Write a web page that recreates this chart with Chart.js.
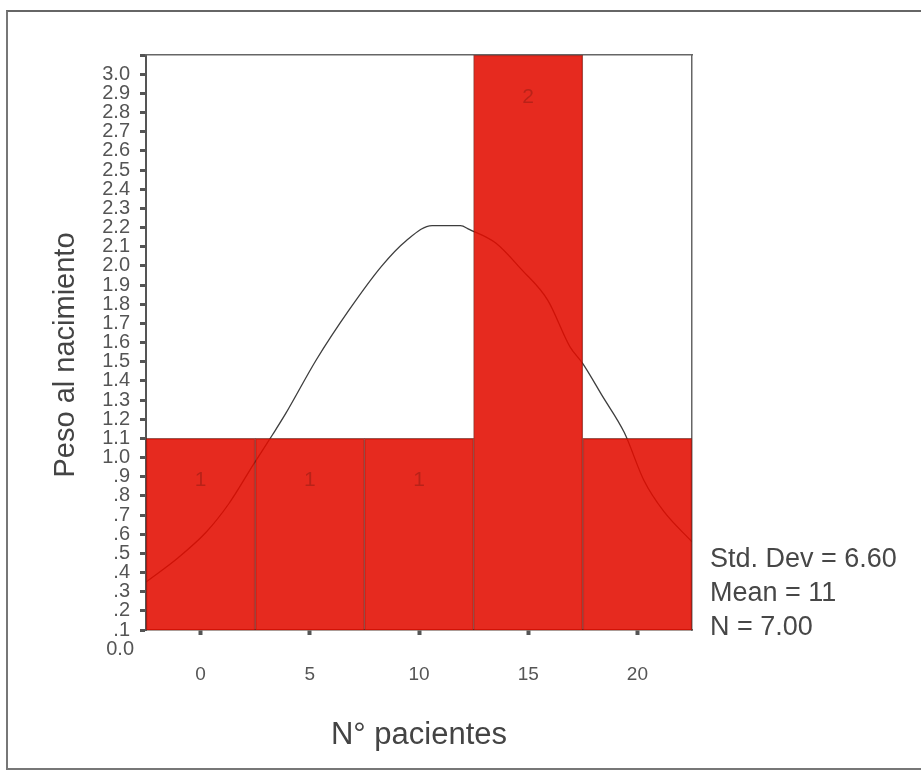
<!DOCTYPE html>
<html>
<head>
<meta charset="utf-8">
<script src="https://cdn.jsdelivr.net/npm/chart.js@4.4.0/dist/chart.umd.min.js"></script>
<style>
  html, body { margin: 0; padding: 0; background: #fff; overflow: hidden; }
  .frame { position: absolute; left: 6px; top: 10px; width: 960px; height: 756px;
           border-top: 2px solid #666; border-left: 2px solid #777; border-bottom: 2px solid #777; }
  .chart-container { position: absolute; left: 0; top: 0; width: 921px; height: 776px; }
</style>
</head>
<body>
<div class="frame"></div>
<div class="chart-container"><canvas id="histChart"></canvas></div>
<script>
// histogram bins (N° pacientes) and bar tops
const binCenters = [0, 5, 10, 15, 20];
const barHeights = [1.1, 1.1, 1.1, 3.1, 1.1];
// count printed in each bar (the last one is not legible in the scan)
const binCounts = ['1', '1', '1', '2', ''];

// normal curve, points
const curveX = [-2.5, -1, 0.25, 1.3, 2.4, 3.3, 3.9, 5.3, 6.8, 8.3, 9.4, 10.6, 11.9, 12.3, 13.5, 14.7, 15.9, 16.9, 17.5, 18.4, 19.4, 20.3, 21.2, 22.5];
const curveY = [0.35, 0.48, 0.61, 0.76, 0.96, 1.12, 1.23, 1.51, 1.77, 2.0, 2.13, 2.21, 2.21, 2.19, 2.12, 1.98, 1.82, 1.58, 1.49, 1.32, 1.13, 0.88, 0.72, 0.56];

const xTickValues = [0, 5, 10, 15, 20];
const yTickValues = [0.1, 0.2, 0.3, 0.4, 0.5, 0.6, 0.7, 0.8, 0.9, 1.0, 1.1, 1.2, 1.3, 1.4, 1.5, 1.6, 1.7, 1.8, 1.9, 2.0,
                     2.1, 2.2, 2.3, 2.4, 2.5, 2.6, 2.7, 2.8, 2.9, 3.0, 3.1];
const yTickLabels = ['.1', '.2', '.3', '.4', '.5', '.6', '.7', '.8', '.9', '1.0', '1.1', '1.2', '1.3', '1.4', '1.5', '1.6',
                     '1.7', '1.8', '1.9', '2.0', '2.1', '2.2', '2.3', '2.4', '2.5', '2.6', '2.7', '2.8', '2.9', '3.0', ''];
const statLines = ['Std. Dev = 6.60', 'Mean = 11', 'N = 7.00'];
const yTitle = 'Peso al nacimiento';

const FONT = "'Liberation Sans', Arial, sans-serif";

// counts inside the bars, the stray 0.0 label, the y title and the stats block
const extraText = {
    id: 'extraText',
    afterDatasetsDraw(chart) {
        const ctx = chart.ctx;
        const area = chart.chartArea;
        const bars = chart.getDatasetMeta(1).data;
        ctx.save();
        ctx.font = '21px ' + FONT;
        ctx.fillStyle = 'rgba(130, 25, 15, 0.45)';
        ctx.textAlign = 'center';
        ctx.textBaseline = 'middle';
        bars.forEach((bar, i) => {
            ctx.fillText(binCounts[i], bar.x, Math.max(bar.y, area.top) + 42);
        });

        const yScale = chart.scales.y;
        ctx.font = '20px ' + FONT;
        ctx.fillStyle = '#555';
        ctx.textAlign = 'right';
        ctx.fillText('0.0', yScale.right - 12, yScale.getPixelForValue(0));

        ctx.font = '27px ' + FONT;
        ctx.fillStyle = '#474747';
        ctx.textAlign = 'left';
        statLines.forEach((line, i) => {
            ctx.fillText(line, area.right + 18, 560 + i * 34);
        });

        ctx.translate(66, 355);
        ctx.rotate(-Math.PI / 2);
        ctx.font = '29px ' + FONT;
        ctx.fillStyle = '#444';
        ctx.textAlign = 'center';
        ctx.fillText(yTitle, 0, 0);
        ctx.restore();
    }
};

new Chart(document.getElementById('histChart'), {
    data: {
        datasets: [{
            type: 'line',
            data: curveX.map((x, i) => ({ x: x, y: curveY[i] })),
            borderColor: 'rgba(40, 40, 40, 0.9)',
            borderWidth: 1.3,
            pointRadius: 0,
            cubicInterpolationMode: 'monotone',
            fill: false,
            order: 2
        }, {
            type: 'bar',
            data: binCenters.map((x, i) => ({ x: x, y: barHeights[i] })),
            // slightly see-through so the curve shows faintly through the bars
            backgroundColor: 'rgba(227, 13, 0, 0.88)',
            borderColor: 'rgba(120, 30, 20, 0.75)',
            borderWidth: 1,
            barPercentage: 1.0,
            categoryPercentage: 1.0,
            order: 1
        }]
    },
    options: {
        responsive: true,
        maintainAspectRatio: false,
        animation: false,
        layout: { padding: { left: 0, top: 55, right: 229, bottom: 0 } },
        plugins: {
            legend: { display: false },
            tooltip: { enabled: false }
        },
        scales: {
            x: {
                type: 'linear',
                min: -2.5,
                max: 22.5,
                offset: false,
                z: 1,
                afterBuildTicks: scale => { scale.ticks = xTickValues.map(v => ({ value: v })); },
                afterFit: scale => { scale.height = 146; },
                ticks: { color: '#555', font: { family: FONT, size: 19 }, padding: 28, autoSkip: false },
                grid: { offset: false, drawOnChartArea: false, tickLength: 5, tickWidth: 4, color: '#555' },
                border: { display: true, color: '#5a3a30', width: 1.5 },
                title: { display: true, text: 'N° pacientes', color: '#444', font: { family: FONT, size: 31 }, padding: { bottom: 22 } }
            },
            y: {
                type: 'linear',
                min: 0.1,
                max: 3.1,
                z: 1,
                afterBuildTicks: scale => { scale.ticks = yTickValues.map(v => ({ value: v })); },
                afterFit: scale => { scale.width = 146; },
                ticks: {
                    color: '#555',
                    font: { family: FONT, size: 20 },
                    padding: 10,
                    autoSkip: false,
                    callback: (v, i) => yTickLabels[i]
                },
                grid: { drawOnChartArea: false, tickLength: 6, tickWidth: 3, color: '#555' },
                border: { display: true, color: '#555', width: 2 }
            },
            xTop: {
                type: 'linear',
                position: 'top',
                min: -2.5,
                max: 22.5,
                z: 1,
                afterFit: scale => { scale.height = 0; },
                ticks: { display: false },
                grid: { display: false },
                border: { display: true, color: '#666', width: 1.5 }
            },
            yRight: {
                type: 'linear',
                position: 'right',
                min: 0.1,
                max: 3.1,
                z: 1,
                afterFit: scale => { scale.width = 0; },
                ticks: { display: false },
                grid: { display: false },
                border: { display: true, color: '#666', width: 1.5 }
            }
        }
    },
    plugins: [extraText]
});
</script>
</body>
</html>
